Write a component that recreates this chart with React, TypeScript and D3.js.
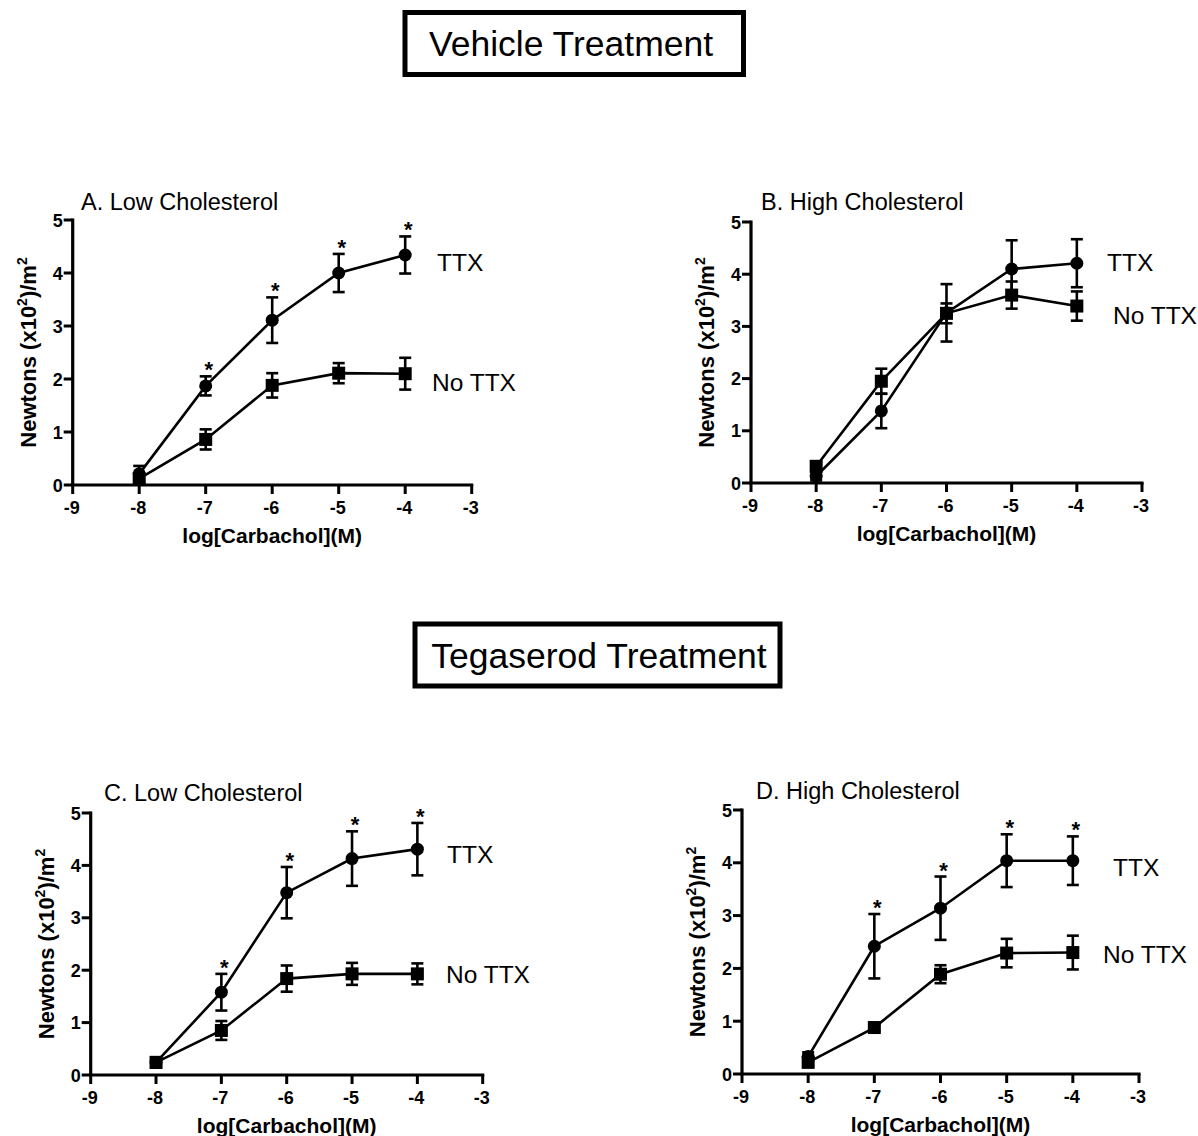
import React from "react";
import * as d3 from "d3";

// doses, log[Carbachol] (M)
const doses = [-8, -7, -6, -5, -4];
const xTicks = [-9, -8, -7, -6, -5, -4, -3];
const yTicks = [0, 1, 2, 3, 4, 5];

// A. Vehicle, low cholesterol
const aTtxMean = [0.21, 1.87, 3.11, 4.0, 4.34];
const aTtxSem = [0.15, 0.18, 0.43, 0.36, 0.35];
const aNoMean = [0.12, 0.86, 1.88, 2.11, 2.1];
const aNoSem = [0.08, 0.19, 0.23, 0.19, 0.3];
const aStars = [false, true, true, true, true];

// B. Vehicle, high cholesterol
const bTtxMean = [0.13, 1.38, 3.26, 4.1, 4.21];
const bTtxSem = [0.08, 0.33, 0.55, 0.55, 0.46];
const bNoMean = [0.32, 1.95, 3.25, 3.6, 3.39];
const bNoSem = [0.08, 0.24, 0.19, 0.26, 0.28];
const bStars = [false, false, false, false, false];

// C. Tegaserod, low cholesterol
const cTtxMean = [0.24, 1.58, 3.48, 4.13, 4.31];
const cTtxSem = [0.1, 0.35, 0.49, 0.52, 0.5];
const cNoMean = [0.24, 0.85, 1.84, 1.93, 1.93];
const cNoSem = [0.08, 0.18, 0.25, 0.21, 0.2];
const cStars = [false, true, true, true, true];

// D. Tegaserod, high cholesterol
const dTtxMean = [0.33, 2.42, 3.14, 4.04, 4.04];
const dTtxSem = [0.08, 0.61, 0.6, 0.5, 0.46];
const dNoMean = [0.22, 0.88, 1.89, 2.29, 2.3];
const dNoSem = [0.08, 0.06, 0.17, 0.27, 0.32];
const dStars = [false, true, true, true, true];

const FONT = "Arial, 'Liberation Sans', sans-serif";

type PanelProps = {
  title: string;
  left: number; right: number; top: number; bottom: number;
  titleX: number; titleY: number;
  ttxMean: number[]; ttxSem: number[];
  noMean: number[]; noSem: number[];
  stars: boolean[];
  ttxLabel: [number, number];
  noLabel: [number, number];
};

function Panel(p: PanelProps) {
  const x = d3.scaleLinear().domain([-9, -3]).range([p.left, p.right]);
  const y = d3.scaleLinear().domain([0, 5]).range([p.bottom, p.top]);
  const line = d3.line<number>().x((_, i) => x(doses[i])).y((d) => y(d));
  const cap = 6;

  const errBars = (mean: number[], sem: number[]) =>
    mean.map((m, i) => {
      const cx = x(doses[i]);
      const y1 = y(m + sem[i]);
      const y2 = y(Math.max(0, m - sem[i]));
      return (
        <g key={i} stroke="#000" strokeWidth={2.6}>
          <line x1={cx} x2={cx} y1={y1} y2={y2} />
          <line x1={cx - cap} x2={cx + cap} y1={y1} y2={y1} />
          <line x1={cx - cap} x2={cx + cap} y1={y2} y2={y2} />
        </g>
      );
    });

  return (
    <g fontFamily={FONT}>
      <text x={p.titleX} y={p.titleY} fontSize={23.5}>{p.title}</text>
      {/* axes */}
      <line x1={p.left} x2={p.left} y1={p.top - 1.5} y2={p.bottom} stroke="#000" strokeWidth={3.2} />
      <line x1={p.left - 1.6} x2={p.right + 1.6} y1={p.bottom} y2={p.bottom} stroke="#000" strokeWidth={3.2} />
      {yTicks.map((t) => (
        <g key={"y" + t}>
          <line x1={p.left - 9} x2={p.left} y1={y(t)} y2={y(t)} stroke="#000" strokeWidth={3} />
          <text x={p.left - 10} y={y(t) + 6.5} textAnchor="end" fontSize={18} fontWeight="bold">{t}</text>
        </g>
      ))}
      {xTicks.map((t) => (
        <g key={"x" + t}>
          <line x1={x(t)} x2={x(t)} y1={p.bottom} y2={p.bottom + 9} stroke="#000" strokeWidth={3} />
          <text x={x(t) - 1} y={p.bottom + 29} textAnchor="middle" fontSize={18} fontWeight="bold">{t}</text>
        </g>
      ))}
      <text x={(p.left + p.right) / 2} y={p.bottom + 58} textAnchor="middle" fontSize={21} fontWeight="bold">
        log[Carbachol](M)
      </text>
      <text
        transform={`translate(${p.left - 37},${(p.top + p.bottom) / 2}) rotate(-90)`}
        textAnchor="middle" fontSize={22} fontWeight="bold"
      >
        Newtons (x10<tspan fontSize={14} dy={-9}>2</tspan><tspan dy={9}>)/m</tspan><tspan fontSize={14} dy={-9}>2</tspan>
      </text>
      {/* series */}
      <path d={line(p.ttxMean) || ""} fill="none" stroke="#000" strokeWidth={2.6} />
      <path d={line(p.noMean) || ""} fill="none" stroke="#000" strokeWidth={2.6} />
      {errBars(p.ttxMean, p.ttxSem)}
      {errBars(p.noMean, p.noSem)}
      {p.ttxMean.map((m, i) => (
        <circle key={"c" + i} cx={x(doses[i])} cy={y(m)} r={6.5} fill="#000" />
      ))}
      {p.noMean.map((m, i) => (
        <rect key={"s" + i} x={x(doses[i]) - 6.5} y={y(m) - 6.5} width={13} height={13} fill="#000" />
      ))}
      {p.stars.map((s, i) =>
        s ? (
          <text key={"st" + i} x={x(doses[i]) + 3} y={y(p.ttxMean[i] + p.ttxSem[i]) + 1}
            textAnchor="middle" fontSize={22} fontWeight="bold">*</text>
        ) : null
      )}
      <text x={p.ttxLabel[0]} y={p.ttxLabel[1]} fontSize={24.5}>TTX</text>
      <text x={p.noLabel[0]} y={p.noLabel[1]} fontSize={24.5}>No TTX</text>
    </g>
  );
}

export default function App() {
  return (
    <svg width={1198} height={1136} style={{ position: "absolute", left: 0, top: 0, background: "#fff" }}>
      <rect x={0} y={0} width={1198} height={1136} fill="#fff" />
      <rect x={405} y={12.5} width={338.5} height={62} fill="none" stroke="#000" strokeWidth={5} />
      <text x={571} y={56} textAnchor="middle" fontFamily={FONT} fontSize={35.5}>Vehicle Treatment</text>
      <rect x={415} y={624} width={365} height={62} fill="none" stroke="#000" strokeWidth={5} />
      <text x={599} y={668} textAnchor="middle" fontFamily={FONT} fontSize={35.5}>Tegaserod Treatment</text>

      <Panel title="A. Low  Cholesterol" left={72.7} right={471.7} top={220} bottom={485}
        titleX={81} titleY={210}
        ttxMean={aTtxMean} ttxSem={aTtxSem} noMean={aNoMean} noSem={aNoSem} stars={aStars}
        ttxLabel={[437, 271]} noLabel={[432, 391]} />
      <Panel title="B. High Cholesterol" left={751} right={1142} top={222} bottom={483}
        titleX={761} titleY={210}
        ttxMean={bTtxMean} ttxSem={bTtxSem} noMean={bNoMean} noSem={bNoSem} stars={bStars}
        ttxLabel={[1107, 271]} noLabel={[1113, 324]} />
      <Panel title="C. Low Cholesterol" left={90.7} right={482.7} top={813} bottom={1075}
        titleX={104} titleY={801}
        ttxMean={cTtxMean} ttxSem={cTtxSem} noMean={cNoMean} noSem={cNoSem} stars={cStars}
        ttxLabel={[447, 863]} noLabel={[446, 983]} />
      <Panel title="D. High Cholesterol" left={742} right={1139} top={810} bottom={1074}
        titleX={756} titleY={799}
        ttxMean={dTtxMean} ttxSem={dTtxSem} noMean={dNoMean} noSem={dNoSem} stars={dStars}
        ttxLabel={[1113, 876]} noLabel={[1103, 963]} />
    </svg>
  );
}
